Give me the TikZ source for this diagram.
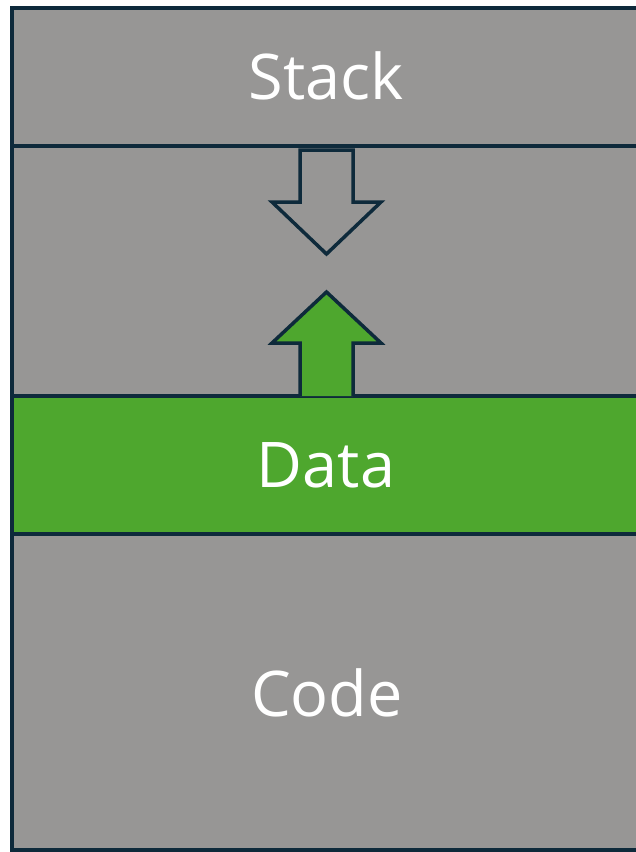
\documentclass[tikz,border=0pt]{standalone}
\usepackage{fontspec}
\setmainfont{Open Sans}

\definecolor{seggray}{HTML}{979695}
\definecolor{segline}{HTML}{0E2A3B}
\definecolor{seggreen}{HTML}{4EA72E}

\begin{document}
\begin{tikzpicture}
  [x=1pt,y=-1pt,
   every node/.style={text=white,font=\fontsize{63}{70}\selectfont},
   segment/.style={draw=segline,line width=4pt},
   growth/.style={draw=segline,line width=3.5pt,line join=miter}]
  \useasboundingbox (0,0) rectangle (636,852);
  \clip (0,0) rectangle (636,852);

  % memory segments, top to bottom
  \foreach \top/\bot/\col in {8/146/seggray,146/396/seggray,396/534/seggreen,534/850/seggray}
    \filldraw[segment,fill=\col] (11.5,\top) rectangle (660,\bot);

  \node (stack) at (326,76)  {Stack};
  \node (data)  at (326,465) {Data};
  \node (code)  at (327,693) {Code};

  % stack grows down, heap grows up
  \filldraw[growth,fill=seggray] (300,150) -- (353,150) -- (353,202) -- (381,202)
    -- (326.5,254) -- (272,202) -- (300,202) -- cycle;
  \filldraw[growth,fill=seggreen] (300,396) -- (300,343) -- (272,343) -- (326.5,292)
    -- (381,343) -- (353,343) -- (353,396);
\end{tikzpicture}
\end{document}
